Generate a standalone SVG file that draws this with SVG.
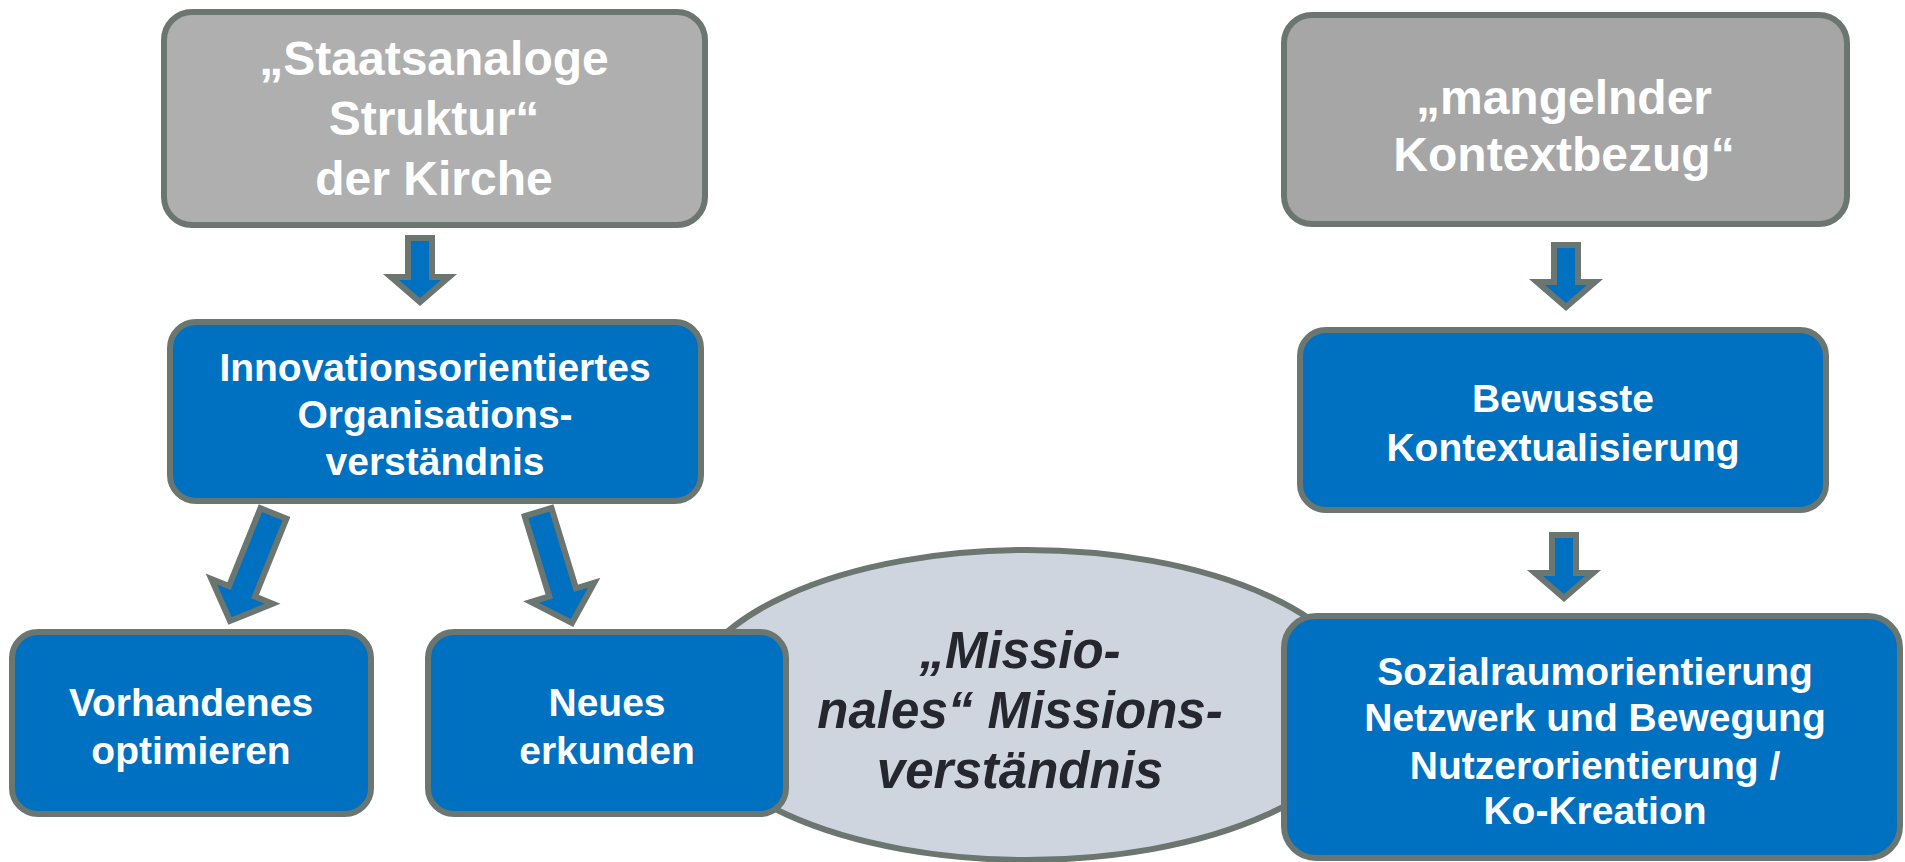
<svg xmlns="http://www.w3.org/2000/svg" width="1905" height="862" viewBox="0 0 1905 862">
<defs>
<style>
.box{stroke:#6b7670;stroke-width:6}
.gray{fill:#afafaf}
.gray2{fill:#a6a6a6}
.blue{fill:#0070c0}
.t{font-family:"Liberation Sans",Arial,sans-serif;font-weight:bold;fill:#ffffff;text-anchor:middle}
.big{font-size:48px}
.mid{font-size:39px}
.ell{font-family:"Liberation Sans",Arial,sans-serif;font-weight:bold;font-style:italic;font-size:51px;fill:#26262e;text-anchor:middle}
.arr{fill:#0070c0;stroke:#6b7670;stroke-width:6;stroke-linejoin:miter}
</style>
</defs>
<rect width="1905" height="862" fill="#ffffff"/>

<g id="node-mission">
<ellipse cx="1027" cy="705" rx="340" ry="155" fill="#cfd5de" stroke="#6b7670" stroke-width="6"/>
<text class="ell" x="1020" y="668">„Missio-</text>
<text class="ell" x="1020" y="728">nales“ Missions-</text>
<text class="ell" x="1020" y="788">verständnis</text>
</g>

<g id="node-staat">
<rect class="box gray" x="164" y="12" width="541" height="213" rx="28"/>
<text class="t big" x="434" y="75">„Staatsanaloge</text>
<text class="t big" x="434" y="135">Struktur“</text>
<text class="t big" x="434" y="195">der Kirche</text>
</g>

<g id="node-innovation">
<rect class="box blue" x="170" y="322" width="531" height="179" rx="26"/>
<text class="t mid" x="435" y="381">Innovationsorientiertes</text>
<text class="t mid" x="435" y="428">Organisations-</text>
<text class="t mid" x="435" y="475">verständnis</text>
</g>

<g id="node-vorhandenes">
<rect class="box blue" x="12" y="632" width="359" height="182" rx="26"/>
<text class="t mid" x="191" y="716">Vorhandenes</text>
<text class="t mid" x="191" y="764">optimieren</text>
</g>

<g id="node-neues">
<rect class="box blue" x="428" y="632" width="358" height="182" rx="26"/>
<text class="t mid" x="607" y="716">Neues</text>
<text class="t mid" x="607" y="764">erkunden</text>
</g>

<g id="node-kontext">
<rect class="box gray2" x="1284" y="15" width="563" height="209" rx="28"/>
<text class="t big" x="1564" y="114">„mangelnder</text>
<text class="t big" x="1564" y="171">Kontextbezug“</text>
</g>

<g id="node-bewusst">
<rect class="box blue" x="1300" y="330" width="526" height="180" rx="26"/>
<text class="t mid" x="1563" y="412">Bewusste</text>
<text class="t mid" x="1563" y="461">Kontextualisierung</text>
</g>

<g id="node-sozial">
<rect class="box blue" x="1284" y="616" width="616" height="242" rx="32"/>
<text class="t mid" x="1595" y="685">Sozialraumorientierung</text>
<text class="t mid" x="1595" y="731">Netzwerk und Bewegung</text>
<text class="t mid" x="1595" y="779">Nutzerorientierung /</text>
<text class="t mid" x="1595" y="824">Ko-Kreation</text>
</g>

<g id="connectors">
<polygon class="arr" points="-12,-64 12,-64 12,-25 29,-25 0,0 -29,-25 -12,-25" transform="translate(420,302)"/>
<polygon class="arr" points="-12,-62 12,-62 12,-25 29,-25 0,0 -29,-25 -12,-25" transform="translate(1566,307)"/>
<polygon class="arr" points="-12,-63 12,-63 12,-25 29,-25 0,0 -29,-25 -12,-25" transform="translate(1564,598)"/>
<polygon class="arr" points="-14,-116 14,-116 14,-32 33,-32 0,0 -33,-32 -14,-32" transform="translate(230,621) rotate(22)"/>
<polygon class="arr" points="-14,-116 14,-116 14,-32 33,-32 0,0 -33,-32 -14,-32" transform="translate(572,623) rotate(-17)"/>
</g>
</svg>
